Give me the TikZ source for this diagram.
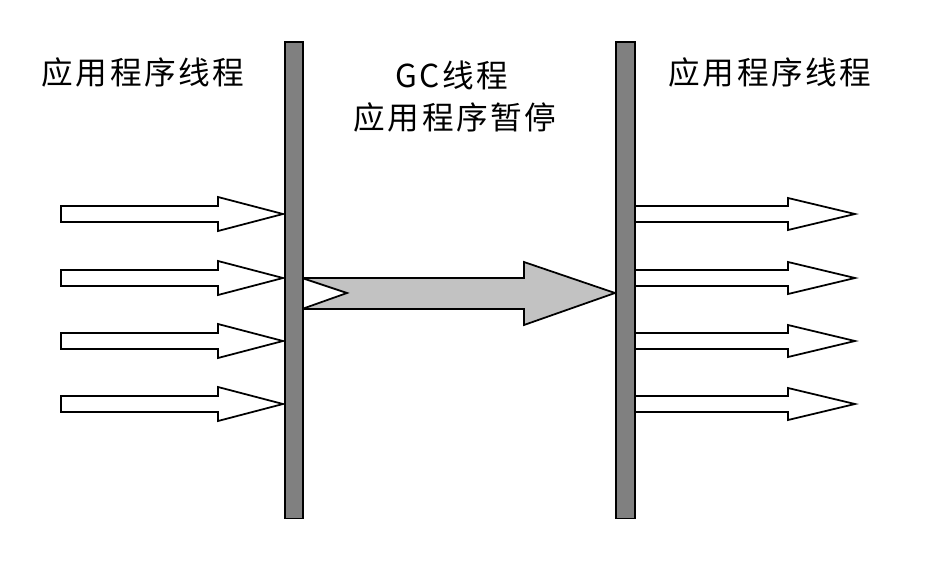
\documentclass[tikz,border=0pt]{standalone}
\usepackage{fontspec}
\newfontfamily\cjk[LetterSpace=8]{Noto Sans CJK SC}
\usepackage{tikz}

\begin{document}
\begin{tikzpicture}[x=0.02cm,y=-0.02cm,
    bar/.style={draw=black,line width=0.9pt,fill=black!50},
    thread/.style={draw=black,line width=1pt,fill=white,line join=miter},
    gcarrow/.style={draw=black,line width=1pt,fill=black!24,line join=miter},
    lbl/.style={font=\cjk\fontsize{18}{24}\selectfont,inner sep=0pt}]
  \useasboundingbox (0,0) rectangle (948,582);
  % application threads running into the pause
  \foreach \y in {214,278,341,404}{
    \draw[thread] (61,\y-8) -- (218,\y-8) -- (218,\y-17) -- (283,\y)
      -- (218,\y+17) -- (218,\y+8) -- (61,\y+8) -- cycle;
  }
  % application threads after the pause (open tail at the bar)
  \foreach \y in {214,278,341,404}{
    \fill[white] (634,\y-8) -- (788,\y-8) -- (788,\y-16) -- (855,\y)
      -- (788,\y+16) -- (788,\y+8) -- (634,\y+8) -- cycle;
    \draw[thread,fill=none] (634,\y-8) -- (788,\y-8) -- (788,\y-16) -- (855,\y)
      -- (788,\y+16) -- (788,\y+8) -- (634,\y+8);
  }
  % GC thread, notched tail
  \coordinate (gctail) at (302,293);
  \coordinate (gctip) at (615,293);
  \draw[gcarrow] (302,278) -- (524,278) -- (524,262) -- (gctip)
    -- (524,325) -- (524,309) -- (302,309) -- (347,293) -- cycle;
  % safepoint bars
  \node[bar,inner sep=0pt,anchor=north west,
    minimum width=0.36cm,minimum height=9.54cm] (lbar) at (284,41) {};
  \node[bar,inner sep=0pt,anchor=north west,
    minimum width=0.38cm,minimum height=9.54cm] (rbar) at (615,41) {};
  % labels
  \node[lbl] (lapp) at (143,72) {应用程序线程};
  \node[lbl] (gc) at (452,75) {GC线程};
  \node[lbl] (pause) at (455,117) {应用程序暂停};
  \node[lbl] (rapp) at (770,72) {应用程序线程};
\end{tikzpicture}
\end{document}
